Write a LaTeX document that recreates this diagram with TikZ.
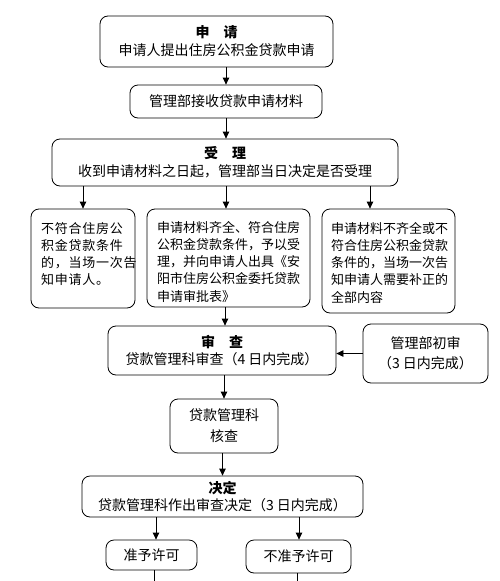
\documentclass[tikz,border=0pt]{standalone}
\usepackage{fontspec}
\setmainfont{Noto Sans CJK SC}
\usetikzlibrary{arrows.meta}
\tikzset{
  box/.style={draw=black, line width=0.8pt, rounded corners=8pt, inner sep=0pt, align=center,
    font=\fontsize{14}{18}\selectfont},
  small/.style={box, align=left, font=\fontsize{13}{17.3}\selectfont, text height=10pt},
  arr/.style={draw=black, line width=0.8pt, -{Triangle[length=7pt,width=6.5pt]}},
  ln/.style={draw=black, line width=0.8pt}
}
\begin{document}
\begin{tikzpicture}[x=1pt,y=-1pt]
\useasboundingbox[fill=white] (0,0) rectangle (500,581);
\node[box, minimum width=233, minimum height=51] (b1) at (216.5,41.5)
  {{\bfseries 申　请}\\申请人提出住房公积金贷款申请};
\node[box, minimum width=192, minimum height=33] (b2) at (226,101.5)
  {管理部接收贷款申请材料};
\node[box, minimum width=346, minimum height=47] (b3) at (225,162.5)
  {{\bfseries 受　理}\\收到申请材料之日起，管理部当日决定是否受理};
\node[small, minimum width=104, minimum height=99, text width=84, text depth=61pt] (b4) at (83,258.5)
  {\addfontfeatures{LetterSpace=6}不符合住房公\\积金贷款条件\\的，当场一次告\\知申请人。};
\node[small, minimum width=163, minimum height=98, text width=143, text depth=62pt] (b5) at (228.5,258)
  {申请材料齐全、符合住房\\公积金贷款条件，予以受\\理，并向申请人出具《安\\阳市住房公积金委托贷款\\申请审批表》};
\node[small, minimum width=133, minimum height=104, text width=115, text depth=66pt] (b6) at (388.5,261)
  {申请材料不齐全或不\\符合住房公积金贷款\\条件的，当场一次告\\知申请人需要补正的\\全部内容};
\node[box, minimum width=228, minimum height=49, font=\fontsize{14}{17}\selectfont] (b7) at (222,350.5)
  {{\bfseries 审　查}\\贷款管理科审查（4 日内完成）};
\node[box, minimum width=125, minimum height=59, font=\fontsize{14}{20}\selectfont] (b8) at (425.5,353.5)
  {管理部初审\\（3 日内完成）};
\node[box, minimum width=108, minimum height=54, font=\fontsize{14}{21}\selectfont] (b9) at (224,426)
  {贷款管理科\\核查};
\node[box, minimum width=281, minimum height=41, font=\fontsize{14}{17}\selectfont] (b10) at (222.5,496.5)
  {{\bfseries 决定}\\贷款管理科作出审查决定（3 日内完成）};
\node[box, minimum width=91, minimum height=30] (b11) at (151.5,555)
  {准予许可};
\node[box, minimum width=105, minimum height=33] (b12) at (298.5,556.5)
  {不准予许可};
\coordinate (e1) at (154,581);
\coordinate (e2) at (297,581);

\draw[arr] (b1.south -| b2.north) -- (b2.north);
\draw[arr] (b2.south) -- (b3.north -| b2.south);
\draw[arr] (b3.south -| b4.north) -- (b4.north);
\draw[arr] ([xshift=-2.5pt]b3.south -| b5.north) -- ([xshift=-2.5pt]b5.north);
\draw[arr] ([xshift=-18.5pt]b3.south -| b6.north) -- ([xshift=-18.5pt]b6.north);
\draw[arr] ([xshift=-3.5pt]b5.south) -- ([xshift=-3.5pt]b5.south |- b7.north);
\draw[arr] (b8.west) -- (b8.west -| b7.east);
\draw[arr] (b7.south -| b9.north) -- (b9.north);
\draw[arr] (b9.south -| b10.north) -- (b10.north);
\draw[arr] ([xshift=4.5pt]b10.south -| b11.north) -- ([xshift=4.5pt]b11.north);
\draw[arr] ([xshift=0.5pt]b10.south -| b12.north) -- ([xshift=0.5pt]b12.north);
\draw[ln] (b11.south -| e1) -- (e1);
\draw[ln] (b12.south -| e2) -- (e2);
\end{tikzpicture}
\end{document}
